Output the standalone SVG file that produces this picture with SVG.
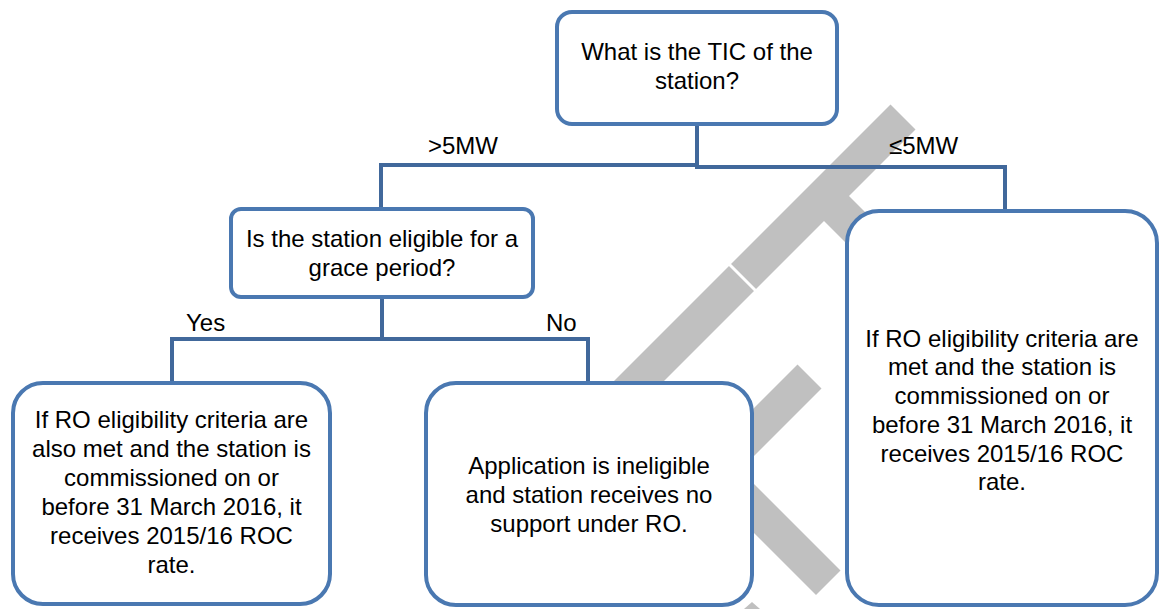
<svg xmlns="http://www.w3.org/2000/svg" width="1159" height="609" viewBox="0 0 1159 609">
<style>
.box{fill:#ffffff;stroke:#4A78B1;stroke-width:4}
.conn{fill:none;stroke:#41689B;stroke-width:4;stroke-linejoin:miter}
.wm{fill:#C0C0C0;stroke:none}
text{font-family:"Liberation Sans",Arial,sans-serif;font-size:24px;fill:#000000}
.c{text-anchor:middle}
</style>
<rect width="1159" height="609" fill="#ffffff"/>
<g id="watermark">
<polygon class="wm" points="890.5,104.5 915.5,129.5 597.5,447.5 572.5,422.5"/>
<polygon class="wm" points="846.5,193.5 901.5,248.5 876.5,273.5 821.5,218.5"/>
<line x1="727.5" y1="262.5" x2="757.5" y2="292.5" stroke="#ffffff" stroke-width="3"/>
<polygon class="wm" points="797.5,364.5 821.5,388.5 740,470 840.5,570.5 816,595 691.5,470.5"/>
<polygon class="wm" points="744,609 752,602 760,609"/>
</g>
<g id="connectors">
<polyline class="conn" points="697,124 697,165 381,165 381,208"/>
<polyline class="conn" points="697,165 697,167 1005,167 1005,211"/>
<polyline class="conn" points="382,297 382,339 172,339 172,383"/>
<polyline class="conn" points="382,339 588,339 588,383"/>
<text x="428" y="154">&gt;5MW</text>
<text x="889" y="154">≤5MW</text>
<text x="186" y="331">Yes</text>
<text x="546" y="331">No</text>
</g>
<g id="node-tic">
<rect class="box" x="557" y="12" width="280" height="112" rx="15"/>
<text class="c" x="697" y="60">What is the TIC of the</text>
<text class="c" x="697" y="89">station?</text>
</g>
<g id="node-grace">
<rect class="box" x="231" y="209" width="302" height="88" rx="10"/>
<text class="c" x="382" y="247">Is the station eligible for a</text>
<text class="c" x="382" y="276">grace period?</text>
</g>
<g id="node-yes">
<rect class="box" x="13" y="383" width="317" height="221" rx="30"/>
<text class="c" x="171.5" y="428">If RO eligibility criteria are</text>
<text class="c" x="171.5" y="457">also met and the station is</text>
<text class="c" x="171.5" y="486">commissioned on or</text>
<text class="c" x="171.5" y="515">before 31 March 2016, it</text>
<text class="c" x="171.5" y="544">receives 2015/16 ROC</text>
<text class="c" x="171.5" y="573">rate.</text>
</g>
<g id="node-no">
<rect class="box" x="426" y="383" width="326" height="222" rx="30"/>
<text class="c" x="589" y="474">Application is ineligible</text>
<text class="c" x="589" y="503">and station receives no</text>
<text class="c" x="589" y="532">support under RO.</text>
</g>
<g id="node-small">
<rect class="box" x="847" y="211" width="310" height="394" rx="32"/>
<text class="c" x="1002" y="347">If RO eligibility criteria are</text>
<text class="c" x="1002" y="375">met and the station is</text>
<text class="c" x="1002" y="404">commissioned on or</text>
<text class="c" x="1002" y="433">before 31 March 2016, it</text>
<text class="c" x="1002" y="462">receives 2015/16 ROC</text>
<text class="c" x="1002" y="490">rate.</text>
</g>
</svg>
